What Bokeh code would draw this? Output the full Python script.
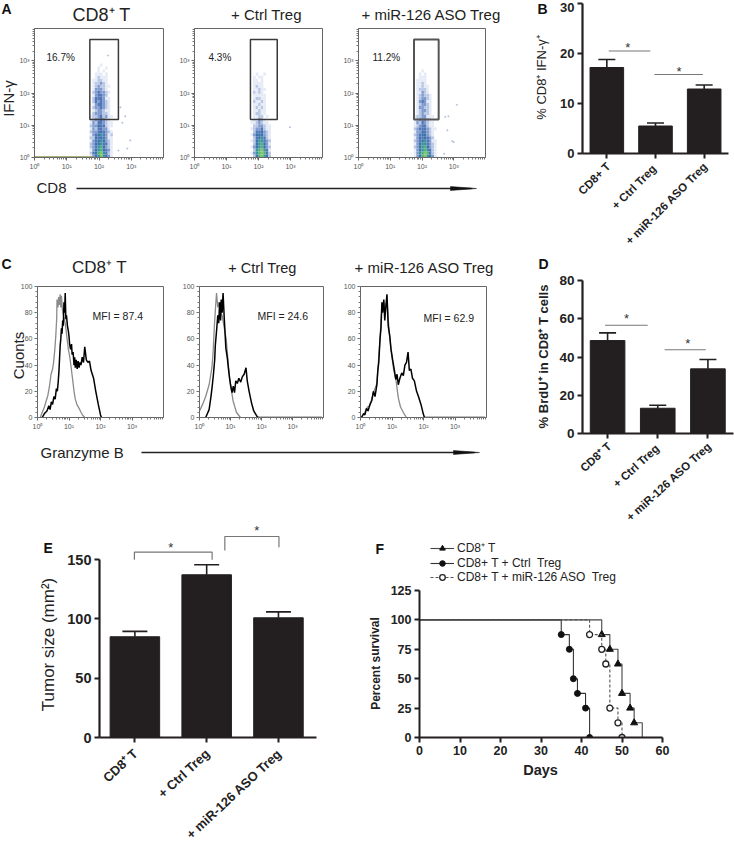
from bokeh.embed import file_html
from bokeh.resources import INLINE
from bokeh.plotting import figure
from bokeh.layouts import row, column
from bokeh.models import (Range1d, FixedTicker, Label, Whisker, TeeHead, ColumnDataSource,
                          Legend, LegendItem)
from bokeh.core.properties import value

FONT = "Liberation Sans"
DARK = "#231f20"

# ---------- data ----------
bar_labels_b = ["CD8+ T", "+ Ctrl  Treg", "+ miR-126 ASO Treg"]
bar_labels_d = ["CD8\u207a T", "+ Ctrl  Treg", "+ miR-126 ASO Treg"]
bar_labels_e = ["CD8\u207a T", "+ Ctrl Treg", "+ miR-126 ASO Treg"]
b_values = [17.2, 5.5, 12.9]
b_errors = [1.6, 0.6, 0.8]
d_values = [48.6, 13.2, 33.8]
d_errors = [4.0, 1.6, 4.9]
e_values = [85, 137.3, 101]
e_errors = [4.5, 8.4, 5.0]

days_triangle = [0, 45, 47, 49, 50, 52, 53, 55]
surv_triangle = [100, 87.5, 75, 62.5, 37.5, 25, 12.5, 0]
days_filled = [0, 35, 37, 38, 39, 41, 42]
surv_filled = [100, 87.5, 75, 50, 37.5, 25, 0]
days_open = [0, 42, 45, 46, 47, 49, 50]
surv_open = [100, 87.5, 75, 62.5, 25, 12.5, 0]

# density of the flow-cytometry clouds: one string per row, bottom row first
a1_density = ["135686531", "245786421", "135675431", "234675321", "235564421", "134565321",
              "225454311", "134564312", "233454321", "132443310", "233544211", "132443211",
              "123343210", "122342311", "023332210", "012332110", "023343210", "013443210",
              "024343210", "024443110", "013443200", "023433210", "013332100", "012322110",
              "012232100", "011221100", "001211100", "001110100", "000101000", "000100100",
              "000010000"]
a2_density = ["025786520", "136787420", "026786410", "135675320", "025675310", "125664320",
              "024564210", "135553210", "024453210", "123342110", "022332110", "112321100",
              "011321000", "011220100", "012211000", "011211000", "012121000", "011211000",
              "021121000", "012211000", "011111000", "021210000", "011211000", "012110000",
              "011110000", "011010000", "010110000", "001001000"]
a3_density = ["135786531", "136787421", "135676421", "235675321", "135664321", "234564311",
              "135454320", "234553210", "133543210", "234443211", "123442110", "132432110",
              "123332100", "122331110", "012322100", "012332100", "013322100", "012332100",
              "013431100", "012332100", "012322100", "011321000", "012221000", "011211000",
              "011210000", "011110000", "001110000", "001010000", "000100000"]
a1_stray = [(190, 1450), (460, 36), (650, 19), (930, 3.4), (530, 12), (750, 1.9), (400, 1.65)]
a2_stray = [(960, 8.7)]
a3_stray = [(1250, 43), (540, 18), (680, 19), (630, 7), (890, 3.2), (1000, 3.0), (500, 1.3)]
gate_a1 = (52, 400, 15, 4600)
gate_a2 = (56, 385, 15, 4600)
gate_a3 = (56, 335, 15, 4600)
density_x0 = {"a1": 1.71, "a2": 1.75, "a3": 1.74}

# histograms: (log10 of intensity, percent of maximum)
c1_gray = [(0.09, 0), (0.15, 4), (0.22, 8), (0.28, 13), (0.33, 17), (0.38, 24), (0.43, 33), (0.48, 37),
           (0.51, 42), (0.55, 52), (0.58, 62), (0.61, 76), (0.62, 90), (0.65, 84), (0.67, 92), (0.69, 86),
           (0.72, 94), (0.74, 84), (0.76, 93), (0.79, 82), (0.82, 78), (0.85, 75), (0.88, 72), (0.93, 62),
           (0.98, 52), (1.02, 47), (1.07, 38), (1.11, 30), (1.16, 20), (1.2, 14), (1.25, 10), (1.32, 7),
           (1.38, 4), (1.44, 1.5), (1.5, 0)]
c1_black = [(0.15, 0), (0.22, 3), (0.3, 5), (0.36, 9), (0.4, 6), (0.44, 12), (0.48, 10), (0.52, 16),
            (0.56, 14), (0.6, 22), (0.63, 20), (0.66, 28), (0.68, 35), (0.7, 45), (0.72, 55), (0.74, 60),
            (0.76, 68), (0.78, 64), (0.8, 74), (0.82, 70), (0.84, 88), (0.86, 80), (0.88, 95), (0.9, 75),
            (0.92, 78), (0.95, 70), (0.98, 66), (1.0, 62), (1.02, 56), (1.05, 52), (1.08, 56), (1.1, 48),
            (1.13, 50), (1.16, 40), (1.18, 46), (1.2, 38), (1.23, 44), (1.26, 37), (1.29, 43), (1.32, 38),
            (1.35, 42), (1.38, 40), (1.42, 46), (1.46, 42), (1.5, 54), (1.55, 44), (1.6, 42), (1.65, 43),
            (1.7, 36), (1.78, 30), (1.85, 20), (1.93, 10), (2.0, 2), (2.03, 0)]
c2_gray = [(0.0, 5), (0.1, 10), (0.2, 16), (0.31, 25), (0.4, 38), (0.44, 50), (0.48, 70), (0.52, 85),
           (0.55, 95), (0.59, 84), (0.63, 88), (0.67, 80), (0.73, 78), (0.86, 60), (0.97, 30), (1.08, 13),
           (1.19, 4), (1.32, 0)]
c2_black = [(0.2, 0), (0.31, 6), (0.37, 16), (0.41, 24), (0.45, 33), (0.49, 44), (0.51, 55), (0.55, 66),
            (0.59, 78), (0.62, 72), (0.65, 88), (0.68, 74), (0.7, 90), (0.73, 80), (0.76, 95), (0.8, 75),
            (0.85, 53), (0.9, 45), (0.93, 38), (0.97, 30), (1.0, 25), (1.05, 19), (1.09, 24), (1.13, 19),
            (1.17, 28), (1.22, 26), (1.27, 30), (1.33, 27), (1.38, 31), (1.44, 33), (1.5, 38), (1.54, 28),
            (1.6, 20), (1.68, 11), (1.75, 5), (1.85, 1), (1.9, 0), (3.95, 0)]
c3_gray = [(0.03, 0), (0.14, 4), (0.22, 8), (0.3, 9), (0.41, 19), (0.52, 26), (0.57, 43), (0.62, 60),
           (0.68, 86), (0.74, 88), (0.77, 80), (0.84, 90), (0.89, 72), (0.96, 53), (1.05, 37), (1.13, 28),
           (1.2, 15), (1.27, 8), (1.38, 3), (1.46, 0)]
c3_black = [(0.03, 0), (0.1, 3), (0.14, 2), (0.19, 7), (0.24, 5), (0.3, 10), (0.36, 13), (0.41, 20),
            (0.46, 16), (0.52, 25), (0.55, 36), (0.58, 42), (0.62, 60), (0.65, 68), (0.68, 88), (0.7, 80),
            (0.74, 90), (0.77, 74), (0.81, 86), (0.84, 94), (0.88, 70), (0.93, 62), (0.97, 52), (1.02, 44),
            (1.07, 37), (1.12, 29), (1.16, 33), (1.2, 25), (1.25, 30), (1.31, 34), (1.36, 32), (1.41, 40),
            (1.46, 42), (1.51, 50), (1.55, 36), (1.6, 37), (1.65, 30), (1.71, 28), (1.78, 20), (1.84, 16),
            (1.92, 10), (1.99, 3), (2.03, 0), (3.95, 0)]

decade_ticks = [1, 10, 100, 1000]
decade_labels = {1: "10\u2070", 10: "10\u00b9", 100: "10\u00b2", 1000: "10\u00b3"}
minor_log = [k * d for d in decade_ticks for k in range(2, 10)]

density_colors = [None, "#e3e9f5", "#b3c3e2", "#7895cb", "#4a6fb5", "#2f6aa8", "#2f8f95", "#46ab78", "#7cc25a"]


# ---------- helpers ----------
def make_fig(x0, x1, y0, y1, fl, fr, ft, fb, x_range, y_range, **kw):
    p = figure(width=x1 - x0, height=y1 - y0, min_border_left=fl - x0, min_border_right=x1 - fr,
               min_border_top=ft - y0, min_border_bottom=y1 - fb, x_range=x_range, y_range=y_range,
               toolbar_location=None, output_backend="svg", background_fill_color=None,
               border_fill_color=None, **kw)
    p.grid.visible = False
    return p


# transparent sheet over the whole page that carries titles, panel letters and arrows
ov = make_fig(0, 734, 0, 841, 0, 734, 0, 841, Range1d(0, 734), Range1d(841, 0), margin=(-841, 0, 0, 0))
ov.axis.visible = False
ov.outline_line_color = None


def put(px, py, text, size, bold=False, angle=0.0, align="left", color="#222222"):
    ov.add_layout(Label(x=px, y=py, text=text, text_font=FONT, text_font_size=f"{size}px", text_color=color,
                        text_font_style="bold" if bold else "normal", angle=angle,
                        text_align=align, text_baseline="middle"))


def flow_axes(p):
    for ax in (p.xaxis[0], p.yaxis[0]):
        ax.ticker = FixedTicker(ticks=decade_ticks, minor_ticks=minor_log)
        ax.major_label_overrides = decade_labels
        ax.major_label_text_font = FONT
        ax.major_label_text_font_size = "7px"
        ax.major_label_text_color = "#555555"
        ax.axis_line_color = "#666666"
        ax.major_tick_line_color = "#666666"
        ax.minor_tick_line_color = "#777777"
        ax.major_tick_out = 3
        ax.major_tick_in = 0
        ax.minor_tick_out = 2
        ax.minor_tick_in = 0
        ax.major_label_standoff = 2
    p.outline_line_color = "#666666"


def flow_panel(x0, x1, fl, fr, density, xstart, stray, gate, gate_style=("#3a3a3a", 1.5)):
    p = make_fig(x0, x1, 0, 252, fl, fr, 28, 157, Range1d(1, 10 ** 4), Range1d(1, 10 ** 4),
                 x_axis_type="log", y_axis_type="log")
    flow_axes(p)
    step_x, step_y = 0.08, 0.094
    left, right, bottom, top, colors = [], [], [], [], []
    for r, line in enumerate(density):
        for c, ch in enumerate(line):
            if ch != "0":
                left.append(10 ** (xstart + c * step_x))
                right.append(10 ** (xstart + (c + 1) * step_x))
                bottom.append(10 ** (r * step_y))
                top.append(10 ** ((r + 1) * step_y))
                colors.append(density_colors[int(ch)])
    p.quad(left=left, right=right, bottom=bottom, top=top, fill_color=colors, line_color=None, fill_alpha=0.95)
    p.scatter([s[0] for s in stray], [s[1] for s in stray], size=1.2, color="#b4c4e0")
    p.quad(left=[gate[0]], right=[gate[1]], bottom=[gate[2]], top=[gate[3]], fill_color=None,
           line_color=gate_style[0], line_width=gate_style[1])
    return p


def hist_panel(x0, x1, fl, fr, ft, fb, gray, black):
    p = make_fig(x0, x1, 252, 522, fl, fr, ft, fb, Range1d(1, 10 ** 4), Range1d(0, 100), x_axis_type="log")
    flow_axes(p)
    ya = p.yaxis[0]
    ya.ticker = FixedTicker(ticks=[0, 20, 40, 60, 80, 100], minor_ticks=list(range(0, 101, 4)))
    ya.major_label_overrides = {}
    p.line([10 ** g[0] for g in gray], [g[1] for g in gray], line_color="#8a8a8a", line_width=1.3)
    p.line([10 ** g[0] for g in black], [g[1] for g in black], line_color="#000000", line_width=1.5)
    return p


def bar_panel(x0, x1, y0, y1, fl, fr, ft, fb, xr, ymax, yticks, values, errors, cap, tick_size, yaxis_top=None):
    p = make_fig(x0, x1, y0, y1, fl, fr, ft, fb, Range1d(*xr), Range1d(0, ymax))
    xs = [1, 2, 3]
    p.vbar(x=xs, top=values, width=0.69, fill_color=DARK, line_color=DARK)
    src = ColumnDataSource(dict(x=xs, lower=values, upper=[v + e for v, e in zip(values, errors)]))
    p.add_layout(Whisker(source=src, base="x", lower="lower", upper="upper", dimension="height",
                         line_color=DARK, line_width=1.6, lower_head=None,
                         upper_head=TeeHead(size=cap, line_color=DARK, line_width=1.6)))
    xa, ya = p.xaxis[0], p.yaxis[0]
    xa.ticker = FixedTicker(ticks=xs)
    xa.major_label_overrides = {k: " " for k in xs}
    ya.ticker = FixedTicker(ticks=yticks)
    ya.minor_tick_line_color = None
    xa.minor_tick_line_color = None
    if yaxis_top is not None:
        ya.bounds = (0, yaxis_top)
    for ax in (xa, ya):
        ax.axis_line_color = DARK
        ax.axis_line_width = 2.2
        ax.major_tick_line_color = DARK
        ax.major_tick_line_width = 2
        ax.major_tick_out = 5
        ax.major_tick_in = 0
        ax.major_label_text_font = FONT
        ax.major_label_text_font_style = "bold"
        ax.major_label_text_color = "#222222"
        ax.major_label_standoff = 3
    ya.major_label_text_font_size = f"{tick_size}px"
    p.outline_line_color = None
    return p


def sig_line(p, xs, ys, star, color="#777777"):
    p.line(xs, ys, line_color=color, line_width=1.2)
    p.text([star[0]], [star[1]], text=["*"], text_font=value(FONT), text_font_size="13px",
           text_align="center", text_baseline="middle", text_color="#333333")


def arrow(x0, x1, head, y):
    ov.line([x0, x1 - 5], [y, y], line_color="#222222", line_width=1.4)
    ov.patch([head, x1, head], [y - 2, y, y + 2], fill_color="#111111", line_color="#111111", line_width=0.5)


def tick_labels(labels, tick_xs, y, size, angle):
    for lab, tx in zip(labels, tick_xs):
        put(tx + 2, y, lab, size, bold=True, angle=angle, align="right")


# ---------- row 1 ----------
a1 = flow_panel(0, 175, 34, 163, a1_density, density_x0["a1"], a1_stray, gate_a1)
a1.line([1, 70], [1.04, 1.04], line_color="#8a9a50", line_width=1.5)
a2 = flow_panel(175, 340, 194, 322, a2_density, density_x0["a2"], a2_stray, gate_a2)
a3 = flow_panel(340, 510, 355, 485, a3_density, density_x0["a3"], a3_stray, gate_a3, ("#555555", 2))
put(1, 8, "A", 14, bold=True, color="#111111")
put(101, 14, "CD8\u207a T", 18, align="center")
put(8, 98, "IFN-\u03b3", 15, angle=1.5708, align="center")
put(46, 57, "16.7%", 10)
put(268, 14, "+ Ctrl  Treg", 15, align="center")
put(208, 57, "4.3%", 10)
put(433, 14, "+ miR-126 ASO  Treg", 15, align="center")
put(372, 57, "11.2%", 10)
put(36, 187, "CD8", 15)
arrow(76, 476, 450, 188)

b = bar_panel(510, 734, 0, 252, 582, 728, 3, 153, (0.5, 3.5), 30, [0, 10, 20, 30], b_values, b_errors, 17, 13)
b.yaxis[0].major_label_overrides = {30: " "}
put(574, 7, "30", 13, bold=True, align="right")
sig_line(b, [1.04, 1.895], [20.5, 20.5], (1.43, 21.2))
sig_line(b, [1.977, 2.973], [15.8, 15.8], (2.486, 16.5))
put(537, 8, "B", 14, bold=True, color="#111111")
put(541, 77, "% CD8\u207a IFN-\u03b3\u207a", 13, angle=1.5708, align="center")
tick_labels(bar_labels_b, [606, 654, 703], 164, 11.5, 0.785)

# ---------- row 2 ----------
c1 = hist_panel(0, 175, 37, 163, 286, 419, c1_gray, c1_black)
c2 = hist_panel(175, 340, 199, 323, 284, 417, c2_gray, c2_black)
c3 = hist_panel(340, 510, 359, 486, 284, 417, c3_gray, c3_black)
put(1, 263, "C", 14, bold=True, color="#111111")
put(99, 267, "CD8\u207a T", 17, align="center")
put(18, 355, "Cuonts", 15, angle=1.5708, align="center")
put(92, 315, "MFI = 87.4", 10.5)
put(262, 267, "+ Ctrl Treg", 14.5, align="center")
put(257, 315, "MFI = 24.6", 10.5)
put(424, 267, "+ miR-126 ASO Treg", 15, align="center")
put(423, 317, "MFI = 62.9", 10.5)
put(40, 452, "Granzyme B", 15)
arrow(141, 479, 453, 452)

d = bar_panel(510, 734, 252, 522, 582, 733, 280, 433, (0.5, 3.51), 80, [0, 20, 40, 60, 80], d_values, d_errors, 17, 13.5)
sig_line(d, [0.95, 1.80], [56.6, 56.6], (1.38, 60))
sig_line(d, [2.137, 2.958], [43.8, 43.8], (2.6, 47))
put(538, 263, "D", 14, bold=True, color="#111111")
put(543, 356, "% BrdU\u207a in CD8\u207a T cells", 13, bold=True, angle=1.5708, align="center")
tick_labels(bar_labels_d, [607, 657, 707], 444, 11.5, 0.74)

# ---------- row 3 ----------
e = bar_panel(0, 330, 522, 841, 99, 316, 522, 737, (0.507, 3.53), 181.4, [0, 50, 100, 150], e_values, e_errors,
              25, 14.5, yaxis_top=150)
sig_line(e, [0.993, 0.993, 2.076, 2.076], [150, 156.4, 156.4, 150], (1.5, 160))
sig_line(e, [2.253, 2.253, 3.007, 3.007], [157.8, 169.6, 169.6, 160.6], (2.697, 175))
put(43, 547, "E", 14, bold=True, color="#111111")
put(48, 644, "Tumor size (mm\u00b2)", 17, angle=1.5708, align="center")
tick_labels(bar_labels_e, [133, 205, 277], 751, 13, 0.75)

f = make_fig(330, 734, 522, 841, 419, 662, 522, 737, Range1d(0, 60), Range1d(0, 182.8))
l1 = f.step(days_triangle, surv_triangle, mode="after", line_color="#444444", line_width=1.1)
m1 = f.scatter(days_triangle[1:-1], surv_triangle[1:-1], marker="triangle", size=7, color="#111111")
l2 = f.step(days_filled, surv_filled, mode="after", line_color="#333333", line_width=1.1)
m2 = f.scatter(days_filled[1:], surv_filled[1:], marker="circle", size=6, color="#111111")
l3 = f.step(days_open, surv_open, mode="after", line_color="#555555", line_width=1.1, line_dash="3 2")
m3 = f.scatter(days_open[1:], surv_open[1:], marker="circle", size=6, fill_color="white", line_color="#222222", line_width=1.3)
fx, fy = f.xaxis[0], f.yaxis[0]
fx.ticker = FixedTicker(ticks=[0, 10, 20, 30, 40, 50, 60])
fy.ticker = FixedTicker(ticks=[0, 25, 50, 75, 100, 125])
fy.bounds = (0, 125)
for ax in (fx, fy):
    ax.minor_tick_line_color = None
    ax.axis_line_color = DARK
    ax.axis_line_width = 2
    ax.major_tick_line_color = DARK
    ax.major_tick_line_width = 2
    ax.major_tick_out = 5
    ax.major_tick_in = 0
    ax.major_label_text_font = FONT
    ax.major_label_text_font_style = "bold"
    ax.major_label_text_font_size = "12.5px"
    ax.major_label_text_color = "#222222"
    ax.major_label_standoff = 3
f.outline_line_color = None
legend = Legend(items=[LegendItem(label="CD8\u207a T", renderers=[l1, m1]),
                       LegendItem(label="CD8+ T + Ctrl  Treg", renderers=[l2, m2]),
                       LegendItem(label="CD8+ T + miR-126 ASO  Treg", renderers=[l3, m3])],
                location=(11, 153), orientation="vertical", background_fill_alpha=0, border_line_color=None,
                margin=0, padding=0, spacing=0, glyph_width=24, glyph_height=14, label_height=14,
                label_standoff=3, label_text_font=FONT, label_text_font_size="12px", label_text_color="#222222")
f.add_layout(legend, "center")
put(375, 548, "F", 14, bold=True, color="#111111")
put(375, 663, "Percent survival", 12, bold=True, angle=1.5708, align="center")
put(540, 769, "Days", 14.5, bold=True, align="center")

root = column(row(row(a1, a2, a3), b),
              row(row(c1, c2, c3), d),
              row(e, f),
              ov)

open("out.html", "w").write(file_html(root, INLINE))
